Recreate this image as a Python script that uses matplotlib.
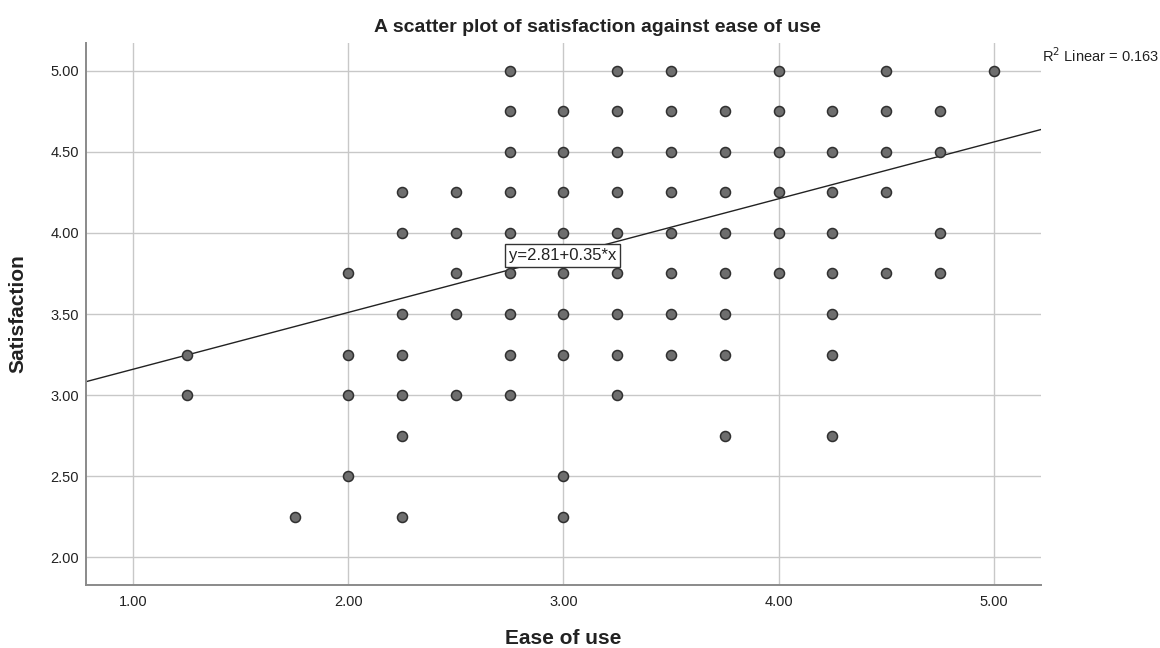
"""SPSS-style scatter: satisfaction against ease of use, with the linear fit."""

import matplotlib
matplotlib.use("Agg")
import matplotlib.pyplot as plt

plt.rcParams["font.family"] = ["Liberation Sans", "DejaVu Sans"]

# Observed (ease of use, satisfaction) pairs, one entry per distinct point.
EASE_OF_USE = (
    [1.25, 1.25]
    + [1.75]
    + [2.00] * 4
    + [2.25] * 7
    + [2.50] * 5
    + [2.75] * 9
    + [3.00] * 9
    + [3.25] * 9
    + [3.50] * 8
    + [3.75] * 8
    + [4.00] * 6
    + [4.25] * 8
    + [4.50] * 5
    + [4.75] * 4
    + [5.00]
)
SATISFACTION = (
    [3.25, 3.00]
    + [2.25]
    + [3.75, 3.25, 3.00, 2.50]
    + [4.25, 4.00, 3.50, 3.25, 3.00, 2.75, 2.25]
    + [4.25, 4.00, 3.75, 3.50, 3.00]
    + [5.00, 4.75, 4.50, 4.25, 4.00, 3.75, 3.50, 3.25, 3.00]
    + [4.75, 4.50, 4.25, 4.00, 3.75, 3.50, 3.25, 2.50, 2.25]
    + [5.00, 4.75, 4.50, 4.25, 4.00, 3.75, 3.50, 3.25, 3.00]
    + [5.00, 4.75, 4.50, 4.25, 4.00, 3.75, 3.50, 3.25]
    + [4.75, 4.50, 4.25, 4.00, 3.75, 3.50, 3.25, 2.75]
    + [5.00, 4.75, 4.50, 4.25, 4.00, 3.75]
    + [4.75, 4.50, 4.25, 4.00, 3.75, 3.50, 3.25, 2.75]
    + [5.00, 4.75, 4.50, 4.25, 3.75]
    + [4.75, 4.50, 4.00, 3.75]
    + [5.00]
)

# Fit reported by SPSS
INTERCEPT = 2.81
SLOPE = 0.35
R_SQUARED = 0.163

X_TICKS = [1.00, 2.00, 3.00, 4.00, 5.00]
Y_TICKS = [2.00, 2.50, 3.00, 3.50, 4.00, 4.50, 5.00]

GRID = "#c8c8c8"
SPINE = "#8a8a8a"
MARKER_FILL = "#6e6e6e"
MARKER_EDGE = "#303030"
TEXT = "#222222"

fig = plt.figure(figsize=(11.6, 6.48), dpi=100)
ax = fig.add_axes([0.0741, 0.0972, 0.8233, 0.8364])

xlim = (0.78, 5.22)
ylim = (1.83, 5.17)
ax.set_xlim(*xlim)
ax.set_ylim(*ylim)

ax.set_xticks(X_TICKS)
ax.set_yticks(Y_TICKS)
ax.set_xticklabels([f"{v:.2f}" for v in X_TICKS])
ax.set_yticklabels([f"{v:.2f}" for v in Y_TICKS])
ax.tick_params(length=0, labelsize=10.5, colors=TEXT)
ax.tick_params(axis="y", pad=5)
ax.tick_params(axis="x", pad=7)
ax.grid(True, color=GRID, lw=1.0)
ax.set_axisbelow(True)

for spine in ("top", "right"):
    ax.spines[spine].set_visible(False)
for spine in ("left", "bottom"):
    ax.spines[spine].set_color(SPINE)
    ax.spines[spine].set_linewidth(1.4)

# regression line across the full x range
ax.plot(xlim, [INTERCEPT + SLOPE * x for x in xlim], color="#222222",
        lw=1.0, zorder=2)

ax.scatter(EASE_OF_USE, SATISFACTION, s=52, facecolor=MARKER_FILL,
           edgecolor=MARKER_EDGE, linewidth=1.1, zorder=3, clip_on=False)

ax.text(2.745, 3.86, f"y={INTERCEPT:.2f}+{SLOPE:.2f}*x", fontsize=12,
        color=TEXT, va="center", ha="left", zorder=4,
        bbox=dict(boxstyle="square,pad=0.22", facecolor="white",
                  edgecolor="#333333", linewidth=1.0))

fig.text(597 / 1160, 1 - 28 / 648,
         "A scatter plot of satisfaction against ease of use",
         fontsize=14, fontweight="bold", color=TEXT, ha="center", va="center")
ax.set_xlabel("Ease of use", fontsize=15, fontweight="bold", color=TEXT,
              va="center")
ax.xaxis.set_label_coords(0.5, -(638 - 585) / 542)
ax.set_ylabel("Satisfaction", fontsize=15, fontweight="bold", color=TEXT,
              va="center")
ax.yaxis.set_label_coords(-(86 - 18) / 955, 0.5)

fig.text(1042 / 1160, 1 - 62 / 648, f"R$^2$ Linear = {R_SQUARED:.3f}",
         fontsize=10.5, color=TEXT, ha="left", va="baseline")

fig.savefig("out.png", dpi=100, facecolor="white")
